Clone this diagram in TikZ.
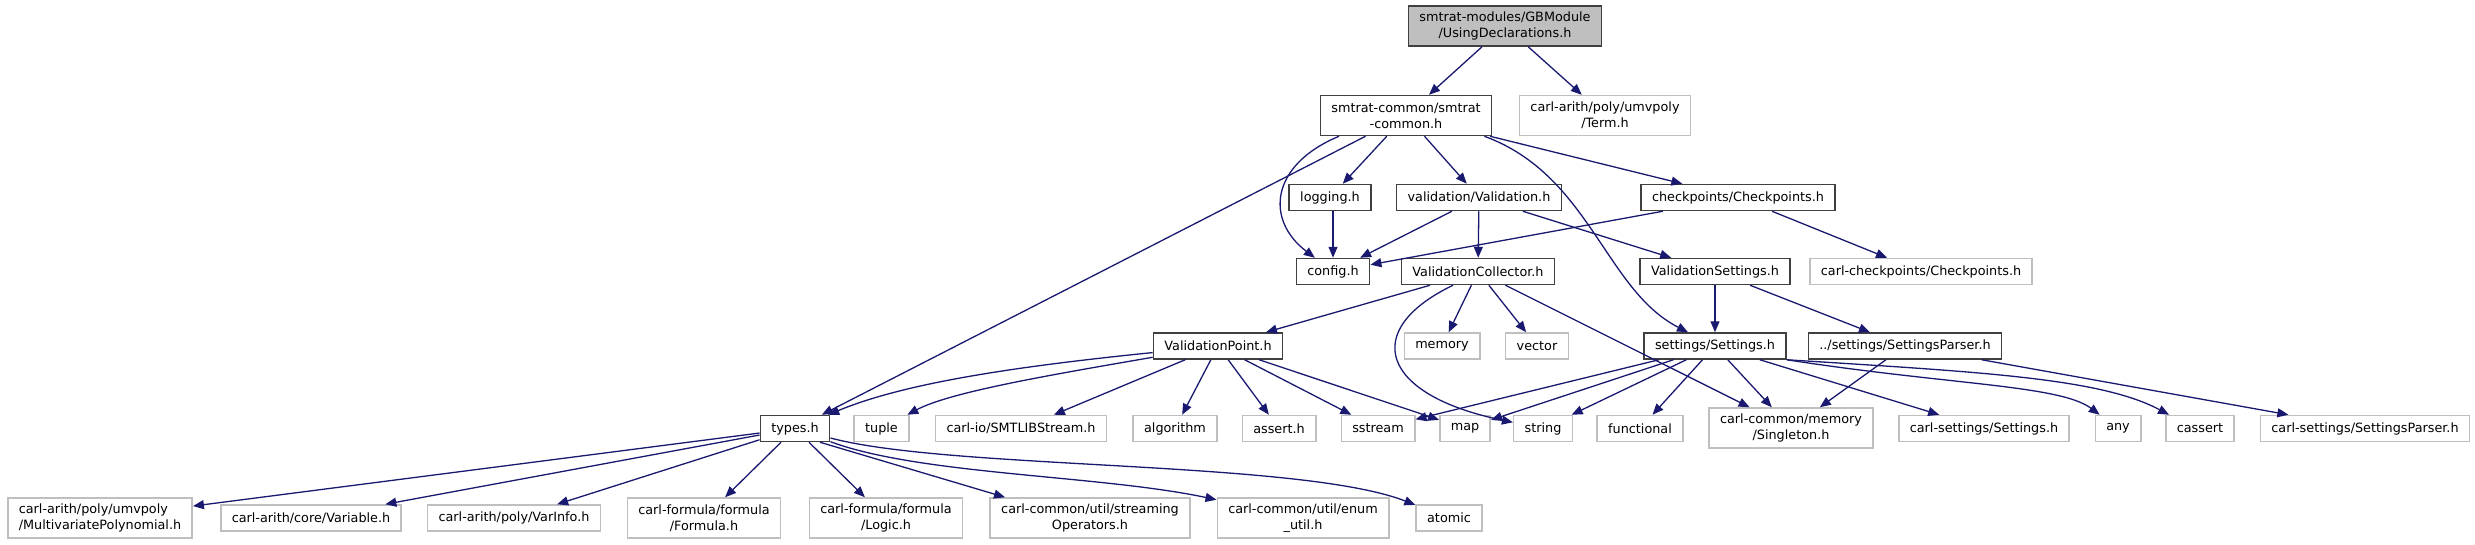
\documentclass[tikz,border=0pt]{standalone}
\usepackage{fontspec}
\setmainfont{DejaVu Sans}
\usepackage{tikz}
\usetikzlibrary{arrows.meta}
\definecolor{edgeblue}{HTML}{191970}
\definecolor{boxdark}{HTML}{404040}
\definecolor{boxgray}{HTML}{BFBFBF}
\tikzset{
  hdr/.style={draw=boxdark, line width=1.5pt, inner xsep=11pt, inner ysep=0pt,
    minimum height=26pt, font=\fontsize{12.8}{16}\selectfont},
  sys/.style={hdr, draw=boxgray},
  tall/.style={minimum height=40pt, align=center},
  dep/.style={->, draw=edgeblue, line width=1.3pt}
}

\begin{document}
\begin{tikzpicture}[x=1pt,y=-1pt,>={Triangle[length=11pt,width=9pt]}]
\useasboundingbox (0,0) rectangle (2475,544);
% boxes, top to bottom
\node[hdr,tall,fill=boxgray] (root) at (1505,26) {smtrat-modules/GBModule\\/UsingDeclarations.h};
\node[hdr,tall] (common) at (1406,115.5) {smtrat-common/smtrat\\-common.h};
\node[sys,tall] (term) at (1605,115.5) {carl-arith/poly/umvpoly\\/Term.h};
\node[hdr] (logging) at (1330,197.5) {logging.h};
\node[hdr] (valid) at (1479,197.5) {validation/Validation.h};
\node[hdr] (checkp) at (1738,197.5) {checkpoints/Checkpoints.h};
\node[hdr] (config) at (1333,271.5) {config.h};
\node[hdr] (vcoll) at (1478,271.5) {ValidationCollector.h};
\node[hdr] (vsett) at (1715,271.5) {ValidationSettings.h};
\node[sys] (carlcheck) at (1921,271.5) {carl-checkpoints/Checkpoints.h};
\node[hdr] (vpoint) at (1218,346) {ValidationPoint.h};
\node[sys] (memory) at (1442,346) {memory};
\node[sys] (vector) at (1537,346) {vector};
\node[hdr] (settings) at (1715,346) {settings/Settings.h};
\node[hdr] (sparser) at (1905,346) {../settings/SettingsParser.h};
\node[hdr] (types) at (795,428.5) {types.h};
\node[sys] (tuple) at (881.5,428.5) {tuple};
\node[sys] (smtlib) at (1021,428.5) {carl-io/SMTLIBStream.h};
\node[sys] (algorithm) at (1175,428.5) {algorithm};
\node[sys] (assert) at (1279,428.5) {assert.h};
\node[sys] (sstream) at (1378,428.5) {sstream};
\node[sys] (map) at (1465,428.5) {map};
\node[sys] (string) at (1543,428.5) {string};
\node[sys] (functional) at (1640,428.5) {functional};
\node[sys,tall] (singleton) at (1791,428) {carl-common/memory\\/Singleton.h};
\node[sys] (csettings) at (1984,428.5) {carl-settings/Settings.h};
\node[sys] (any) at (2118,428.5) {any};
\node[sys] (cassert) at (2200,428.5) {cassert};
\node[sys] (cparser) at (2365,428.5) {carl-settings/SettingsParser.h};
\node[sys,tall,align=left] (multipoly) at (100,518) {carl-arith/poly/umvpoly\\/MultivariatePolynomial.h};
\node[sys] (variable) at (311,518) {carl-arith/core/Variable.h};
\node[sys] (varinfo) at (514,518) {carl-arith/poly/VarInfo.h};
\node[sys,tall] (formula) at (704,518) {carl-formula/formula\\/Formula.h};
\node[sys,tall] (logic) at (886,518) {carl-formula/formula\\/Logic.h};
\node[sys,tall] (streamops) at (1090,518) {carl-common/util/streaming\\Operators.h};
\node[sys,tall] (enumutil) at (1303,518) {carl-common/util/enum\\\_util.h};
\node[sys] (atomic) at (1449,518) {atomic};
% includes
\draw[dep] (root) -- (common);
\draw[dep] (root) -- (term);
\draw[dep] (common) -- (types);
\draw[dep] ([xshift=-67pt]common.south) .. controls (1270,165) and (1265,220) .. (config);
\draw[dep] (common) -- (logging);
\draw[dep] (common) -- (valid);
\draw[dep] ([xshift=-8pt]common.south east) .. controls (1590,175) and (1605,290) .. (settings);
\draw[dep] (common) -- (checkp);
\draw[dep] (logging.south -| config) -- (config);
\draw[dep] (valid) -- (config);
\draw[dep] (valid) -- (vcoll);
\draw[dep] (valid) -- (vsett);
\draw[dep] (checkp) -- (config);
\draw[dep] (checkp) -- (carlcheck);
\draw[dep] (vcoll) -- (vpoint);
\draw[dep] (vcoll) -- (memory);
\draw[dep] (vcoll) -- (vector);
\draw[dep] ([xshift=-25pt]vcoll.south) .. controls (1360,330) and (1380,395) .. (string);
\draw[dep] (vcoll) -- (singleton);
\draw[dep] (vsett) -- (settings);
\draw[dep] (vsett) -- (sparser);
\draw[dep] (vpoint) .. controls (1000,368) and (900,385) .. (types);
\draw[dep] (vpoint) .. controls (1050,375) and (950,392) .. (tuple);
\draw[dep] (vpoint) -- (smtlib);
\draw[dep] (vpoint) -- (algorithm);
\draw[dep] (vpoint) -- (assert);
\draw[dep] (vpoint) -- (sstream);
\draw[dep] (vpoint) -- (map);
\draw[dep] (settings) -- (sstream);
\draw[dep] (settings) -- (map);
\draw[dep] (settings) -- (string);
\draw[dep] (settings) -- (functional);
\draw[dep] (settings) -- (singleton);
\draw[dep] (settings) -- (csettings);
\draw[dep] (settings.south east) .. controls (1950,385) and (2060,385) .. (any);
\draw[dep] (settings.south east) .. controls (1980,372) and (2100,378) .. ([xshift=4pt]cassert.north west);
\draw[dep] (sparser) -- (singleton);
\draw[dep] (sparser) -- (cparser);
\draw[dep] (types) -- (multipoly);
\draw[dep] (types) -- (variable);
\draw[dep] (types) -- (varinfo);
\draw[dep] (types) -- (formula);
\draw[dep] (types) -- (logic);
\draw[dep] ([xshift=25pt]types.south) -- ([xshift=-85pt]streamops.north);
\draw[dep] (types) .. controls (920,475) and (1100,475) .. (enumutil);
\draw[dep] (types) .. controls (950,470) and (1300,460) .. (atomic);
\end{tikzpicture}
\end{document}
